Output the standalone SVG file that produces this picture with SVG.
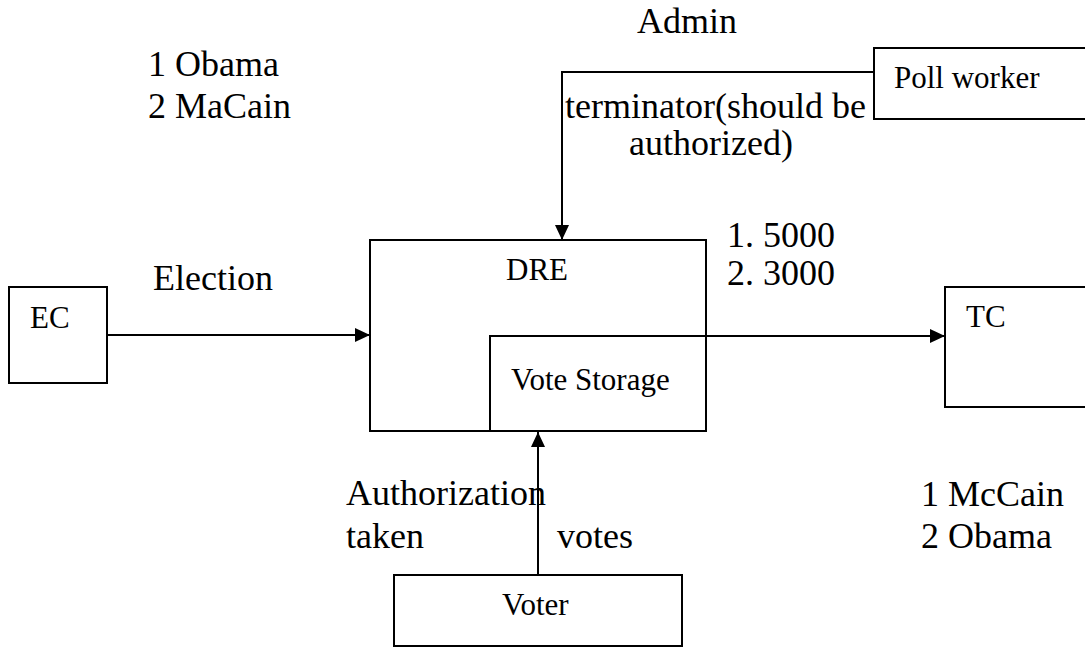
<svg xmlns="http://www.w3.org/2000/svg" width="1085" height="647" viewBox="0 0 1085 647">
<style>
.box{fill:#fff;stroke:#000;stroke-width:2}
.conn{fill:none;stroke:#000;stroke-width:2}
.big{font-family:"Liberation Serif","Times New Roman",serif;font-size:36px;fill:#000}
.small{font-family:"Liberation Serif","Times New Roman",serif;font-size:31px;fill:#000}
</style>
<defs>
<marker id="arr" markerUnits="userSpaceOnUse" markerWidth="16" markerHeight="14" refX="15" refY="7" orient="auto">
<path d="M0,0 L15,7 L0,14 Z" fill="#000"/>
</marker>
</defs>
<rect width="1085" height="647" fill="#fff"/>
<g id="labels">
<text class="big" x="637" y="33">Admin</text>
<text class="big" x="148" y="76">1 Obama</text>
<text class="big" x="148" y="118">2 MaCain</text>
<text class="big" x="565" y="118">terminator(should be</text>
<text class="big" x="629" y="155">authorized)</text>
<text class="big" x="153" y="290">Election</text>
<text class="big" x="727" y="247">1. 5000</text>
<text class="big" x="727" y="285">2. 3000</text>
<text class="big" x="346" y="505">Authorization</text>
<text class="big" x="346" y="548">taken</text>
<text class="big" x="557" y="548">votes</text>
<text class="big" x="921" y="506">1 McCain</text>
<text class="big" x="921" y="548">2 Obama</text>
</g>
<g id="node-ec">
<rect class="box" x="9" y="287" width="98" height="96"/>
<text class="small" x="30" y="328">EC</text>
</g>
<g id="node-dre">
<rect class="box" x="370" y="240" width="336" height="191"/>
<text class="small" x="506" y="280">DRE</text>
</g>
<g id="node-vote-storage">
<rect class="box" x="490" y="336" width="216" height="95"/>
<text class="small" x="511" y="390">Vote Storage</text>
</g>
<g id="node-tc">
<rect class="box" x="945" y="287" width="160" height="120"/>
<text class="small" x="966" y="327">TC</text>
</g>
<g id="node-poll-worker">
<rect class="box" x="874" y="48" width="230" height="71"/>
<text class="small" x="894" y="88">Poll worker</text>
</g>
<g id="node-voter">
<rect class="box" x="394" y="575" width="288" height="71"/>
<text class="small" x="502" y="615">Voter</text>
</g>
<g id="connectors">
<line class="conn" x1="107" y1="335" x2="370" y2="335" marker-end="url(#arr)"/>
<path class="conn" d="M874,72 H562 V240" marker-end="url(#arr)"/>
<line class="conn" x1="706" y1="336" x2="945" y2="336" marker-end="url(#arr)"/>
<line class="conn" x1="538" y1="575" x2="538" y2="432" marker-end="url(#arr)"/>
</g>
</svg>
